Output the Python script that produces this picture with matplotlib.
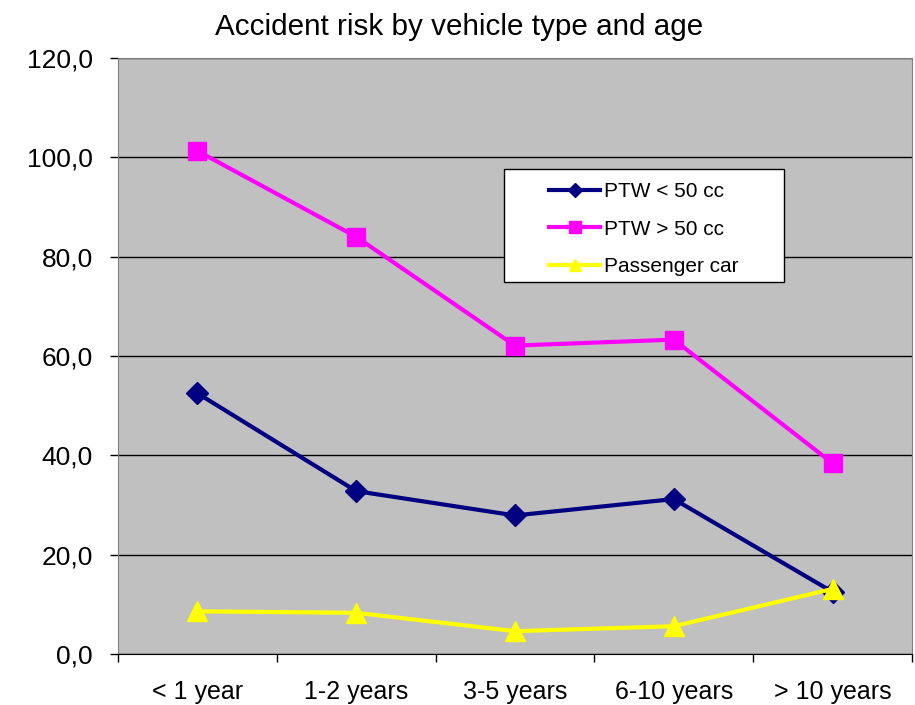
import matplotlib
matplotlib.use("Agg")
import matplotlib.pyplot as plt
from matplotlib.patches import Rectangle
import numpy as np

categories = ["< 1 year", "1-2 years", "3-5 years", "6-10 years", "> 10 years"]
ptw_small = [52.5, 32.8, 27.9, 31.2, 12.5]
ptw_large = [101.3, 84.0, 62.1, 63.3, 38.4]
passenger_car = [8.6, 8.3, 4.6, 5.6, 13.1]
y_ticks = [0, 20, 40, 60, 80, 100, 120]

plt.rcParams['font.family'] = ['Liberation Sans', 'DejaVu Sans']

fig = plt.figure(figsize=(9.15, 7.05), dpi=100)
ax = fig.add_axes([0.129, 0.0723, 0.8677, 0.8454])
ax.set_facecolor('#c0c0c0')

x = np.arange(len(categories))
ax.plot(x, ptw_small, color='#000080', lw=3, marker='D', ms=11, label='PTW < 50 cc', zorder=3)
ax.plot(x, ptw_large, color='#ff00ff', lw=3, marker='s', ms=13.5, label='PTW > 50 cc', zorder=3)
ax.plot(x, passenger_car, color='#ffff00', lw=3, marker='^', ms=14, label='Passenger car', zorder=3)

ax.set_xlim(-0.5, len(categories) - 0.5)
ax.set_ylim(0, 120)
ax.set_yticks(y_ticks)
ax.set_yticklabels([f"{v:.1f}".replace('.', ',') for v in y_ticks], fontsize=19)
ax.yaxis.grid(True, color='black', lw=1)
ax.set_axisbelow(True)

# category labels sit between the boundary ticks
ax.set_xticks(np.arange(len(categories) + 1) - 0.5)
ax.set_xticklabels([])
ax.set_xticks(x, minor=True)
ax.set_xticklabels(categories, minor=True, fontsize=18)
ax.tick_params(axis='x', which='minor', length=0, pad=19)
ax.tick_params(axis='x', which='major', length=6, width=1, color='black')
ax.tick_params(axis='y', length=6, width=1, pad=12)

for s in ['top', 'right', 'left']:
    ax.spines[s].set_color('#808080')
ax.spines['bottom'].set_color('black')

# Excel-style legend: wide white box with the entries centred inside
box = Rectangle((0.486, 0.624), 0.353, 0.19, transform=ax.transAxes,
                facecolor='white', edgecolor='black', lw=1, zorder=4)
ax.add_patch(box)
leg = ax.legend(loc='center left', bbox_to_anchor=(0.543, 0.713), fontsize=15,
                frameon=False, handlelength=2.45, borderpad=0, labelspacing=0.88,
                handletextpad=0.2, markerscale=0.65, borderaxespad=0)
leg.set_zorder(5)

fig.text(0.502, 0.962, "Accident risk by vehicle type and age", ha='center', va='center', fontsize=21.3)

fig.savefig("out.png", dpi=100)
